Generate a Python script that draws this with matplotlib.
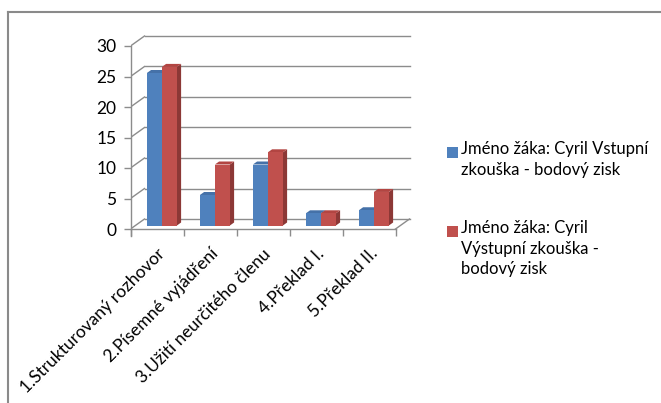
import matplotlib
matplotlib.use("Agg")
import matplotlib.pyplot as plt
from matplotlib.patches import Polygon, Rectangle
from matplotlib.lines import Line2D

# ---- data ----
categories = ["1.Strukturovaný rozhovor", "2.Písemné vyjádření",
              "3.Užití neurčitého členu", "4.Překlad I.", "5.Překlad II."]
vstupni = [25, 5, 10, 2, 2.5]
vystupni = [26, 10, 12, 2, 5.5]
series_names = ["Jméno žáka: Cyril Vstupní\nzkouška - bodový zisk",
                "Jméno žáka: Cyril\nVýstupní zkouška -\nbodový zisk"]
yticks = [0, 5, 10, 15, 20, 25, 30]

# face / top / side shades for each series
colors = [("#4F81BD", "#4571A8", "#385D8A"),
          ("#C0504D", "#B24542", "#8C3836")]

FONT = ["Lato", "DejaVu Sans"]
plt.rcParams["font.family"] = FONT
GRID = "#8C8C8C"

W, H = 661, 403
fig = plt.figure(figsize=(W / 100, H / 100), dpi=100)

# pixel layout of the plot box (front plane)
x0_px, px_per_cat = 130.5, 53.0
y0_px, px_per_unit = 229.0, 6.1
right_px, top_px, bot_px = 425.0, 30.0, 236.0
xmax = (right_px - x0_px) / px_per_cat
ymin = -(bot_px - y0_px) / px_per_unit
ymax = (y0_px - top_px) / px_per_unit
ax = fig.add_axes([x0_px / W, (H - bot_px) / H,
                   (right_px - x0_px) / W, (bot_px - top_px) / H])
ax.set_xlim(0, xmax)
ax.set_ylim(ymin, ymax)
ax.patch.set_visible(False)

# depth of the 3D box in data units
DX = 14 / px_per_cat
DY = 10 / px_per_unit
n = len(categories)

# back wall + side wall gridlines
for v in yticks:
    ax.plot([DX, n + DX], [v + DY, v + DY], color=GRID, lw=1.0, zorder=1)
    ax.plot([0, DX], [v, v + DY], color=GRID, lw=1.0, zorder=1)
# right edge of the floor
ax.plot([n, n + DX], [0, DY], color=GRID, lw=1.0, zorder=1)

# 3D bars
bw = 15 / px_per_cat
f_front, f_back = 0.35, 0.65
for s, vals in enumerate([vstupni, vystupni]):
    face, top, side = colors[s]
    for i, v in enumerate(vals):
        xa = i + 0.5 - bw + s * bw + f_front * DX
        xb = xa + bw
        yb = f_front * DY
        yt = v + f_front * DY
        ddx = (f_back - f_front) * DX
        ddy = (f_back - f_front) * DY
        ax.add_patch(Polygon([(xb, yb), (xb + ddx, yb + ddy), (xb + ddx, yt + ddy), (xb, yt)],
                             closed=True, fc=side, ec="none", zorder=3 + 2 * s))
        ax.add_patch(Polygon([(xa, yt), (xb, yt), (xb + ddx, yt + ddy), (xa + ddx, yt + ddy)],
                             closed=True, fc=top, ec="none", zorder=3 + 2 * s))
        ax.add_patch(Rectangle((xa, yb), bw, v, fc=face, ec="none", zorder=4 + 2 * s))

# front axes
for sp in ["top", "right"]:
    ax.spines[sp].set_visible(False)
ax.spines["left"].set_bounds(ymin, 30)
ax.spines["bottom"].set_position(("data", 0))
ax.spines["bottom"].set_bounds(0, n)
for sp in ["left", "bottom"]:
    ax.spines[sp].set_color(GRID)
    ax.spines[sp].set_linewidth(1.0)

ax.set_yticks(yticks)
ax.set_yticklabels([str(t) for t in yticks])
ax.tick_params(axis="y", length=5, width=1.0, color=GRID, pad=5,
               labelsize=12.5, labelcolor="black")
ax.set_xticks(range(n + 1))
ax.set_xticklabels([])
ax.tick_params(axis="x", which="major", length=5, width=1.0, color=GRID)
ax.set_xticks([i + 0.5 for i in range(n)], minor=True)
ax.set_xticklabels(categories, minor=True, rotation=45, ha="right",
                   rotation_mode="anchor", fontsize=12.5)
ax.tick_params(axis="x", which="minor", length=0, pad=12)

# legend
leg_x, sq = 447, 11
leg_rows = [(141, 0), (220, 1)]
for y_top, s in leg_rows:
    fig.add_artist(Rectangle((leg_x / W, 1 - (y_top + 6 + sq) / H), sq / W, sq / H,
                             transform=fig.transFigure, fc=colors[s][0], ec="none"))
    fig.text((leg_x + sq + 3) / W, 1 - y_top / H, series_names[s],
             ha="left", va="top", fontsize=12, linespacing=1.35, color="black")

# chart frame (top and left edges)
fig.add_artist(Line2D([7.5 / W, 1], [1 - 11.5 / H] * 2, transform=fig.transFigure,
                      color="#8A8A8A", lw=1.5))
fig.add_artist(Line2D([7.5 / W] * 2, [0, 1 - 11.5 / H], transform=fig.transFigure,
                      color="#8A8A8A", lw=1.5))

fig.savefig("out.png", dpi=100)
